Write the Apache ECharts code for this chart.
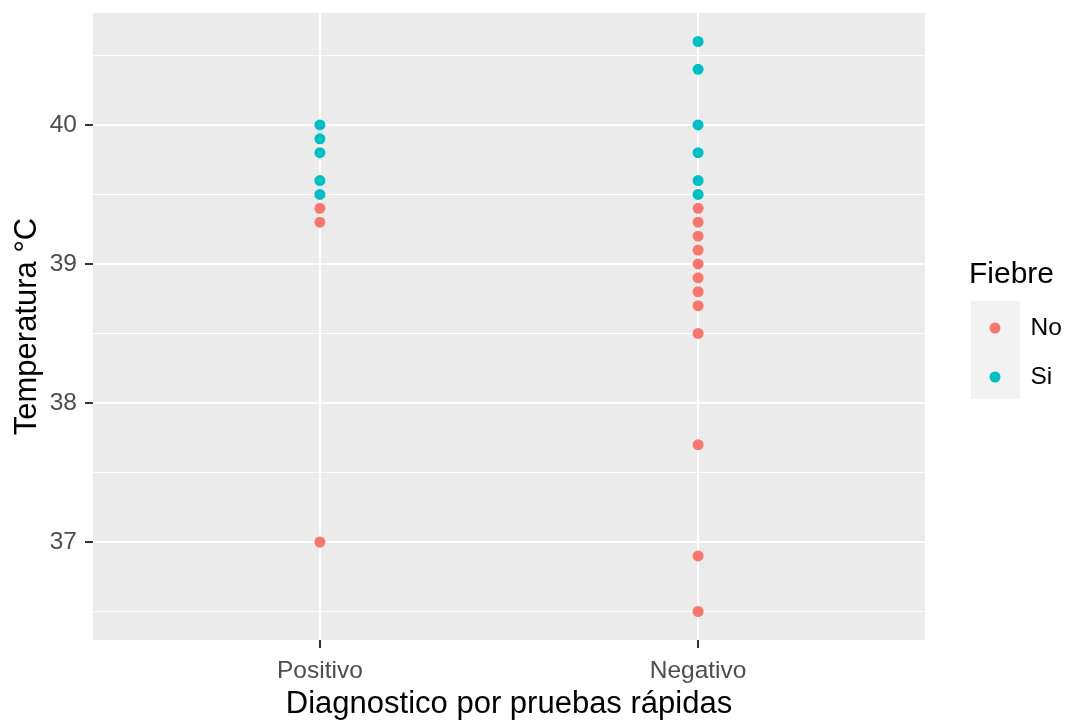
<!DOCTYPE html>
<html>
<head>
<meta charset="utf-8">
<script src="https://cdn.jsdelivr.net/npm/echarts@6/dist/echarts.min.js"></script>
<style>
html,body{margin:0;padding:0;background:#fff;}
#chart{width:1071px;height:721px;}
</style>
</head>
<body>
<div id="chart"></div>
<script>
// ---- data ----
var categories = ['Positivo', 'Negativo'];
var positivoNo = [39.4, 39.3, 37.0];
var positivoSi = [40.0, 39.9, 39.8, 39.6, 39.5];
var negativoNo = [39.4, 39.3, 39.2, 39.1, 39.0, 38.9, 38.8, 38.7, 38.5, 37.7, 36.9, 36.5];
var negativoSi = [40.6, 40.4, 40.0, 39.8, 39.6, 39.5];
var yMajorTicks = [37, 38, 39, 40];
var yMinorTicks = [36.5, 37.5, 38.5, 39.5, 40.5];
var legendNames = ['No', 'Si'];

function pts(catIndex, vals) {
  return vals.map(function (v) { return [catIndex + 1, v]; });
}
var noData = pts(0, positivoNo).concat(pts(1, negativoNo));
var siData = pts(0, positivoSi).concat(pts(1, negativoSi));

var allVals = positivoNo.concat(positivoSi, negativoNo, negativoSi);
var yLo = Math.min.apply(null, allVals), yHi = Math.max.apply(null, allVals);
var yPad = (yHi - yLo) * 0.05;

var FONT = 'Liberation Sans, Arial, sans-serif';
var chart = echarts.init(document.getElementById('chart'), null, {renderer: 'canvas'});

var option = {
  animation: false,
  backgroundColor: '#ffffff',
  grid: {
    left: 93, right: 146, top: 13, bottom: 81,
    show: true, backgroundColor: '#EBEBEB', borderWidth: 0,
    containLabel: false, outerBoundsMode: 'none'
  },
  title: {
    text: 'Fiebre', left: 969, top: 260, padding: 0,
    textStyle: {fontFamily: FONT, fontSize: 30, fontWeight: 'normal', color: '#000'}
  },
  graphic: [{
    type: 'rect', left: 971, top: 301, z: -1,
    shape: {width: 49, height: 98},
    style: {fill: '#F2F2F2'}
  }],
  legend: {
    data: legendNames,
    orient: 'vertical',
    left: 989.5, top: 315.5,
    itemWidth: 11, itemHeight: 11, itemGap: 24,
    icon: 'circle',
    padding: 0,
    textStyle: {fontFamily: FONT, fontSize: 24.5, color: '#000', lineHeight: 25, padding: [0, 0, 0, 25]}
  },
  xAxis: {
    type: 'value', min: 0.4, max: 2.6,
    name: 'Diagnostico por pruebas rápidas',
    nameLocation: 'middle', nameGap: 48,
    nameTextStyle: {fontFamily: FONT, fontSize: 31, color: '#000'},
    axisLine: {show: false},
    axisTick: {show: true, length: 8, customValues: [1, 2], lineStyle: {color: '#333', width: 2}},
    axisLabel: {
      customValues: [1, 2], margin: 19,
      fontFamily: FONT, fontSize: 24.5, color: '#4D4D4D',
      formatter: function (v) { return categories[Math.round(v) - 1] || ''; }
    },
    splitLine: {show: true, lineStyle: {color: '#ffffff', width: 2}}
  },
  yAxis: [{
    type: 'value', min: yLo - yPad, max: yHi + yPad,
    name: 'Temperatura °C',
    nameLocation: 'middle', nameGap: 50, nameMoveOverlap: false,
    nameTextStyle: {fontFamily: FONT, fontSize: 31, color: '#000'},
    axisLine: {show: false},
    axisTick: {show: true, length: 8, customValues: yMajorTicks, lineStyle: {color: '#333', width: 2}},
    axisLabel: {customValues: yMajorTicks, margin: 16, fontFamily: FONT, fontSize: 24.5, color: '#4D4D4D'},
    splitLine: {show: true, lineStyle: {color: '#ffffff', width: 2}}
  }, {
    type: 'value', min: yLo - yPad, max: yHi + yPad, position: 'left',
    axisLine: {show: false},
    axisTick: {show: false, customValues: yMinorTicks},
    axisLabel: {show: false, customValues: yMinorTicks},
    splitLine: {show: true, lineStyle: {color: '#ffffff', width: 1}}
  }],
  series: [{
    name: 'No', type: 'scatter', yAxisIndex: 0,
    symbol: 'circle', symbolSize: 11,
    itemStyle: {color: '#F8766D', opacity: 1},
    data: noData
  }, {
    name: 'Si', type: 'scatter', yAxisIndex: 0,
    symbol: 'circle', symbolSize: 11,
    itemStyle: {color: '#00BFC4', opacity: 1},
    data: siData
  }]
};
chart.setOption(option);
</script>
</body>
</html>
